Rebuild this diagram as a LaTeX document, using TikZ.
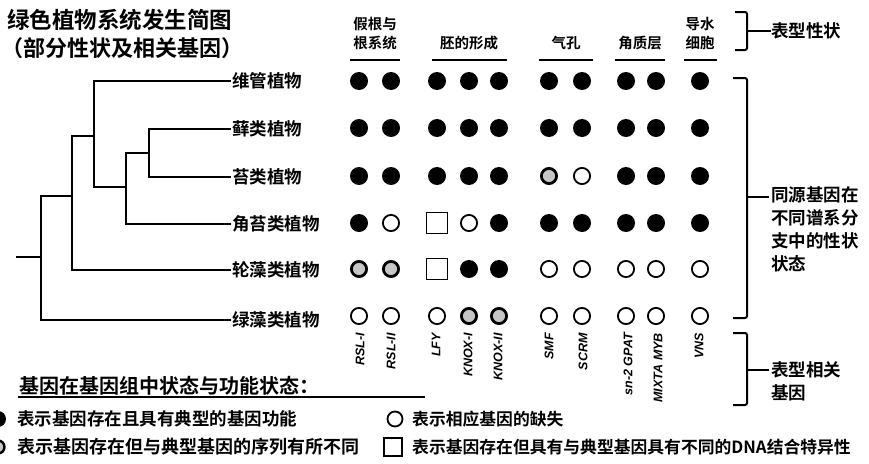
\documentclass[tikz,border=0pt]{standalone}
\usepackage{fontspec}
\setmainfont{Noto Sans CJK SC}[BoldFont={Noto Sans CJK SC Bold}]
\newfontfamily\latinf{Liberation Sans}
\begin{document}
\begin{tikzpicture}[x=1pt,y=-1pt,
  fdot/.style={circle,fill=black,inner sep=0pt,minimum size=18pt},
  odot/.style={circle,draw=black,line width=1.8pt,fill=white,inner sep=0pt,minimum size=16.2pt},
  gdot/.style={circle,draw=black,line width=2.8pt,fill=gray!45,inner sep=0pt,minimum size=15.2pt},
  sqbox/.style={rectangle,draw=black,line width=1.8pt,inner sep=0pt,minimum size=21pt},
  gene/.style={rotate=90,anchor=east,inner sep=0pt,font=\latinf\bfseries\itshape\fontsize{12.5}{13}\selectfont},
  hdr/.style={inner sep=0pt,align=center,font=\bfseries\fontsize{14.5}{19}\selectfont},
  taxon/.style={anchor=west,inner xsep=2pt,inner ysep=0pt,font=\bfseries\fontsize{17.5}{18}\selectfont},
  tree/.style={line width=2.4pt,line cap=rect},
  uline/.style={line width=2.6pt},
  brk/.style={line width=2pt,rounded corners=2pt},
  side/.style={anchor=west,inner sep=0pt,align=left,font=\bfseries\fontsize{17.5}{23}\selectfont},
  leg/.style={anchor=west,inner sep=0pt,font=\bfseries\fontsize{17.5}{18}\selectfont},
  legr/.style={anchor=west,inner sep=0pt,font=\bfseries\fontsize{16.8}{18}\selectfont}]
\useasboundingbox (0,0) rectangle (869,463);

% title
\node[anchor=west,inner sep=0pt,font=\bfseries\fontsize{22.5}{24}\selectfont] (title1) at (7,20) {绿色植物系统发生简图};
\node[anchor=west,inner sep=0pt,font=\bfseries\fontsize{22}{24}\selectfont] (title2) at (1,48) {（部分性状及相关基因）};

% headers
\node[hdr] (h1) at (375,34) {假根与\\根系统};
\node[hdr] (h2) at (469,43) {胚的形成};
\node[hdr] (h3) at (566,43) {气孔};
\node[hdr] (h4) at (640,43) {角质层};
\node[hdr] (h5) at (700,34) {导水\\细胞};
\coordinate (u1a) at (350,60); \coordinate (u1b) at (400,60);
\coordinate (u2a) at (432,60); \coordinate (u2b) at (507,60);
\coordinate (u3a) at (539,60); \coordinate (u3b) at (593,60);
\coordinate (u4a) at (615,60); \coordinate (u4b) at (665,60);
\coordinate (u5a) at (684,60); \coordinate (u5b) at (717,60);
\draw[uline] (u1a) -- (u1b);
\draw[uline] (u2a) -- (u2b);
\draw[uline] (u3a) -- (u3b);
\draw[uline] (u4a) -- (u4b);
\draw[uline] (u5a) -- (u5b);

% taxa
\node[taxon] (l1) at (230,81) {维管植物};
\node[taxon] (l2) at (230,129) {藓类植物};
\node[taxon] (l3) at (230,177) {苔类植物};
\node[taxon] (l4) at (230,224) {角苔类植物};
\node[taxon] (l5) at (230,270) {轮藻类植物};
\node[taxon] (l6) at (230,320) {绿藻类植物};

% tree
\coordinate (r0) at (17,257);
\coordinate (n1) at (41,257);
\coordinate (n2) at (72,196);
\coordinate (n3) at (94,136);
\coordinate (n4) at (126,187);
\coordinate (n5) at (149,153);
\draw[tree] (r0) -- (n1);
\draw[tree] (l6.west) -| (n1) |- (n2);
\draw[tree] (l5.west) -| (n2) |- (n3);
\draw[tree] (l1.west) -| (n3) |- (n4);
\draw[tree] (l4.west) -| (n4) |- (n5);
\draw[tree] (l3.west) -| (n5) |- (l2.west);

% dots
\foreach \x/\s [count=\j] in {359/fdot,391/fdot,437/fdot,469/fdot,499/fdot,549/fdot,582/fdot,626/fdot,656/fdot,700/fdot}
  \node[\s] (da\j) at (\x,81) {};
\foreach \x/\s [count=\j] in {359/fdot,391/fdot,437/fdot,469/fdot,499/fdot,549/fdot,582/fdot,626/fdot,656/fdot,700/fdot}
  \node[\s] (db\j) at (\x,128) {};
\foreach \x/\s [count=\j] in {359/fdot,391/fdot,437/fdot,469/fdot,499/fdot,549/gdot,582/odot,626/fdot,656/fdot,700/fdot}
  \node[\s] (dc\j) at (\x,176) {};
\foreach \x/\s [count=\j] in {359/fdot,391/odot,437/sqbox,469/odot,499/fdot,549/fdot,582/fdot,626/fdot,656/fdot,700/fdot}
  \node[\s] (dd\j) at (\x,223) {};
\foreach \x/\s [count=\j] in {359/gdot,391/gdot,437/sqbox,469/fdot,499/fdot,549/odot,582/odot,626/odot,656/odot,700/odot}
  \node[\s] (de\j) at (\x,269) {};
\foreach \x/\s [count=\j] in {359/odot,391/odot,437/odot,469/gdot,499/gdot,549/odot,582/odot,626/odot,656/odot,700/odot}
  \node[\s] (df\j) at (\x,316) {};

% gene labels
\foreach \x/\t [count=\j] in {360/RSL-I,391/RSL-II,436/LFY,468/KNOX-I,498/KNOX-II,549/SMF,583/SCRM,628/sn-2 GPAT,658/MIXTA MYB,699/VNS}
  \node[gene] (g\j) at (\x,333) {\t};

% right brackets
\coordinate (b1t) at (735,12); \coordinate (b1b) at (735,50);
\draw[brk] (b1t) -- (747,12) -- (747,50) -- (b1b);
\node[side] (s1) at (771,31) {表型性状};
\draw[brk] (747,31) -- (s1.west);

\coordinate (b2t) at (733,78); \coordinate (b2b) at (733,318);
\draw[brk] (b2t) -- (747,78) -- (747,318) -- (b2b);
\node[side] (s2) at (771,229) {同源基因在\\不同谱系分\\支中的性状\\状态};
\coordinate (s2c) at (769,197);
\draw[brk] (747,197) -- (s2c);

\coordinate (b3t) at (733,333); \coordinate (b3b) at (733,405);
\draw[brk] (b3t) -- (747,333) -- (747,405) -- (b3b);
\node[side] (s3) at (771,381) {表型相关\\基因};
\coordinate (s3c) at (769,370);
\draw[brk] (747,370) -- (s3c);

% legend
\node[leg,font=\bfseries\fontsize{20}{21}\selectfont] (lh) at (19,386) {基因在基因组中状态与功能状态：};
\coordinate (lu1) at (18,397); \coordinate (lu2) at (425,397);
\draw[line width=2pt] (lu1) -- (lu2);
\node[fdot,minimum size=16pt] (k1) at (-2,419) {};
\node[leg] (t1) at (17,419) {表示基因存在且具有典型的基因功能};
\node[gdot,minimum size=13pt,line width=2.4pt] (k2) at (-2,447) {};
\node[leg,font=\bfseries\fontsize{18}{19}\selectfont] (t2) at (17,447) {表示基因存在但与典型基因的序列有所不同};
\node[odot,minimum size=15pt] (k3) at (395,419) {};
\node[legr] (t3) at (412,419) {表示相应基因的缺失};
\node[sqbox,minimum size=18pt] (k4) at (393,447) {};
\node[legr] (t4) at (412,447) {表示基因存在但具有与典型基因具有不同的DNA结合特异性};
\end{tikzpicture}
\end{document}
